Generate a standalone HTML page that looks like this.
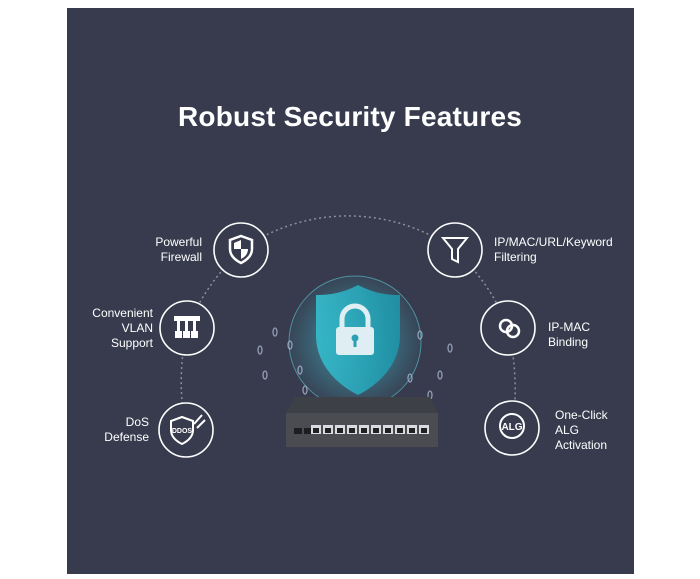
<!DOCTYPE html>
<html><head><style>
body{margin:0;background:#fff;width:700px;height:579px;overflow:hidden;font-family:"Liberation Sans",sans-serif}
.p{position:absolute;left:67px;top:8px;width:567px;height:566px;background:#373b4d}
.t{position:absolute;color:#fff;font-size:12px;line-height:15px}
.r{text-align:right}
</style></head><body>
<div class="p"></div>
<div class="t" style="left:0;width:700px;top:101px;font-size:28px;line-height:32px;font-weight:bold;text-align:center;letter-spacing:0.2px">Robust Security Features</div>
<svg width="700" height="579" style="position:absolute;left:0;top:0">
<defs>
<radialGradient id="g" cx="50%" cy="50%" r="50%"><stop offset="0" stop-color="#4cc6d4" stop-opacity=".7"/><stop offset="1" stop-color="#3bb8c8" stop-opacity=".08"/></radialGradient>
<linearGradient id="s" x1="0" x2="1"><stop offset="0" stop-color="#35bccc"/><stop offset="1" stop-color="#1f93a8"/></linearGradient>
</defs>
<path d="M241 250 A185 185 0 0 1 455 250" fill="none" stroke="#8a90a0" stroke-width="1.5" stroke-dasharray="2 3"/>
<path d="M241 250 Q205 285 187 328 Q176 380 186 430" fill="none" stroke="#8a90a0" stroke-width="1.5" stroke-dasharray="2 3"/>
<path d="M455 250 Q492 285 508 328 Q520 380 512 428" fill="none" stroke="#8a90a0" stroke-width="1.5" stroke-dasharray="2 3"/>
<g fill="#373b4d" stroke="#fff" stroke-width="1.6">
<circle cx="241" cy="250" r="27"/><circle cx="187" cy="328" r="27"/><circle cx="186" cy="430" r="27"/>
<circle cx="455" cy="250" r="27"/><circle cx="508" cy="328" r="27"/><circle cx="512" cy="428" r="27"/>
</g>
<path d="M241 236 l11 4 v9 c0 7-5 11-11 14 c-6-3-11-7-11-14 v-9z" fill="none" stroke="#fff" stroke-width="2.5"/>
<path d="M241 240 v9 h-7 v-6z M241 249 h7 c0 5-3 8-7 10z" fill="#fff"/>
<g fill="#fff"><rect x="174" y="316" width="26" height="5"/><rect x="177" y="321" width="3" height="10"/><rect x="185" y="321" width="3" height="10"/><rect x="193" y="321" width="3" height="10"/><rect x="175" y="331" width="7" height="7"/><rect x="183" y="331" width="7" height="7"/><rect x="191" y="331" width="7" height="7"/></g>
<path d="M182 417 l11 4 v9 c0 7-5 11-11 14 c-6-3-11-7-11-14 v-9z" fill="none" stroke="#fff" stroke-width="2"/>
<text x="182" y="433" fill="#fff" font-size="7" font-weight="bold" text-anchor="middle" font-family="Liberation Sans">DDOS</text>
<path d="M194 424 l8-9 M197 428 l8-8" stroke="#fff" stroke-width="2"/>
<path d="M443 238 h24 l-9 11 v13 l-6-3 v-10z" fill="none" stroke="#fff" stroke-width="2"/>
<circle cx="506" cy="326" r="6" fill="none" stroke="#fff" stroke-width="2.5"/><circle cx="513" cy="331" r="6" fill="none" stroke="#fff" stroke-width="2.5"/>
<circle cx="512" cy="426" r="12" fill="none" stroke="#fff" stroke-width="2"/>
<text x="512" y="430" fill="#fff" font-size="10" font-weight="bold" text-anchor="middle" font-family="Liberation Sans">ALG</text>
<circle cx="355" cy="342" r="66" fill="url(#g)" stroke="#5cc8d6" stroke-width="1" stroke-opacity=".6"/>
<path d="M358 285 c15 8 28 10 42 10 v40 c0 30-22 50-42 60 c-20-10-42-30-42-60 v-40 c14 0 27-2 42-10z" fill="url(#s)" opacity=".92"/>
<rect x="336" y="327" width="38" height="28" rx="3" fill="#dfeef2"/>
<path d="M342 327 v-8 a13 13 0 0 1 26 0 v8" fill="none" stroke="#dfeef2" stroke-width="5"/>
<circle cx="355" cy="338" r="3.5" fill="#2aa0b4"/><rect x="353.5" y="340" width="3" height="7" fill="#2aa0b4"/>
<g fill="none" stroke="#a8b6d0" stroke-width="1.3" opacity=".8">
<ellipse cx="275" cy="332" rx="2" ry="4"/><ellipse cx="290" cy="345" rx="2" ry="4"/><ellipse cx="265" cy="375" rx="2" ry="4"/><ellipse cx="300" cy="370" rx="2" ry="4"/><ellipse cx="305" cy="390" rx="2" ry="4"/><ellipse cx="260" cy="350" rx="2" ry="4"/>
<ellipse cx="420" cy="335" rx="2" ry="4"/><ellipse cx="440" cy="375" rx="2" ry="4"/><ellipse cx="430" cy="395" rx="2" ry="4"/><ellipse cx="450" cy="348" rx="2" ry="4"/><ellipse cx="410" cy="378" rx="2" ry="4"/>
</g>
<path d="M295 397 h135 l8 16 h-152z" fill="#3e4047"/>
<rect x="286" y="413" width="152" height="34" fill="#4a4c52"/>
<g fill="#1d1e22"><rect x="294" y="428" width="8" height="6"/><rect x="304" y="428" width="8" height="6"/></g>
<g fill="#d8dbe0">
<rect x="311" y="425" width="10" height="9"/><rect x="323" y="425" width="10" height="9"/><rect x="335" y="425" width="10" height="9"/><rect x="347" y="425" width="10" height="9"/><rect x="359" y="425" width="10" height="9"/><rect x="371" y="425" width="10" height="9"/><rect x="383" y="425" width="10" height="9"/><rect x="395" y="425" width="10" height="9"/><rect x="407" y="425" width="10" height="9"/><rect x="419" y="425" width="10" height="9"/></g>
<g fill="#222"><rect x="313" y="428" width="6" height="5"/><rect x="325" y="428" width="6" height="5"/><rect x="337" y="428" width="6" height="5"/><rect x="349" y="428" width="6" height="5"/><rect x="361" y="428" width="6" height="5"/><rect x="373" y="428" width="6" height="5"/><rect x="385" y="428" width="6" height="5"/><rect x="397" y="428" width="6" height="5"/><rect x="409" y="428" width="6" height="5"/><rect x="421" y="428" width="6" height="5"/></g>
</svg>
<div class="t r" style="left:120px;width:82px;top:235px">Powerful<br>Firewall</div>
<div class="t r" style="left:60px;width:93px;top:306px">Convenient<br>VLAN<br>Support</div>
<div class="t r" style="left:70px;width:79px;top:415px">DoS<br>Defense</div>
<div class="t" style="left:494px;top:235px">IP/MAC/URL/Keyword<br>Filtering</div>
<div class="t" style="left:548px;top:320px">IP-MAC<br>Binding</div>
<div class="t" style="left:555px;top:408px">One-Click<br>ALG<br>Activation</div>
</body></html>
